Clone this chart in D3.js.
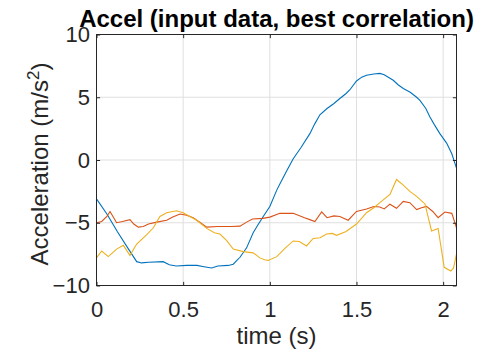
<!DOCTYPE html>
<html>
<head>
<meta charset="utf-8">
<script src="https://cdn.jsdelivr.net/npm/d3@7"></script>
<style>
  body { margin: 0; background: #fff; }
  text { font-family: "Liberation Sans", Arial, sans-serif; fill: #262626; }
</style>
</head>
<body>
<div id="chart"></div>
<script>
// Data (time in s, acceleration in m/s^2)
var blueT = [0, 0.06, 0.12, 0.18, 0.232, 0.26, 0.3, 0.385, 0.42, 0.46, 0.52, 0.58, 0.62, 0.664, 0.7, 0.76, 0.789, 0.81, 0.828, 0.866, 0.904, 0.93, 0.962, 1.0, 1.04, 1.06, 1.1, 1.135, 1.18, 1.231, 1.26, 1.289, 1.33, 1.37, 1.404, 1.44, 1.462, 1.5, 1.53, 1.558, 1.6, 1.635, 1.66, 1.712, 1.74, 1.77, 1.81, 1.847, 1.866, 1.9, 1.923, 1.95, 1.981, 2.02, 2.05, 2.077];
var blueV = [-3.1, -4.3, -5.7, -7.0, -8.1, -8.2, -8.15, -8.1, -8.35, -8.45, -8.4, -8.4, -8.5, -8.6, -8.45, -8.4, -8.3, -8.0, -7.75, -7.0, -5.8, -5.2, -4.5, -3.7, -2.4, -1.85, -0.8, 0.1, 1.0, 2.1, 2.9, 3.6, 4.1, 4.5, 4.9, 5.3, 5.6, 6.3, 6.6, 6.75, 6.85, 6.9, 6.8, 6.35, 6.0, 5.7, 5.4, 5.0, 4.75, 4.1, 3.45, 2.8, 2.1, 1.35, 0.5, -0.65];

var redT = [0, 0.03, 0.06, 0.078, 0.095, 0.116, 0.15, 0.193, 0.215, 0.241, 0.27, 0.3, 0.347, 0.405, 0.44, 0.482, 0.52, 0.558, 0.6, 0.636, 0.7, 0.78, 0.828, 0.866, 0.9, 0.96, 1.0, 1.058, 1.135, 1.2, 1.231, 1.26, 1.299, 1.33, 1.37, 1.404, 1.452, 1.5, 1.558, 1.6, 1.635, 1.66, 1.693, 1.731, 1.77, 1.808, 1.847, 1.875, 1.904, 1.94, 1.971, 2.01, 2.05, 2.077];
var redV = [-5.0, -4.9, -4.5, -4.1, -4.5, -5.0, -4.9, -4.75, -5.1, -5.35, -5.3, -5.1, -4.95, -4.8, -4.55, -4.3, -4.4, -4.6, -5.0, -5.35, -5.3, -5.3, -5.27, -4.95, -4.7, -4.65, -4.55, -4.25, -4.25, -4.6, -4.75, -4.9, -4.13, -4.6, -4.45, -4.5, -4.8, -4.1, -3.9, -3.7, -3.75, -3.9, -3.52, -3.85, -3.3, -3.4, -3.95, -3.8, -3.7, -4.1, -4.6, -4.15, -4.25, -5.4];

var yellowT = [0, 0.03, 0.068, 0.116, 0.155, 0.193, 0.232, 0.29, 0.328, 0.366, 0.405, 0.462, 0.5, 0.578, 0.636, 0.68, 0.712, 0.75, 0.789, 0.847, 0.904, 0.943, 0.97, 0.99, 1.04, 1.09, 1.135, 1.17, 1.212, 1.25, 1.29, 1.327, 1.36, 1.385, 1.44, 1.5, 1.558, 1.6, 1.635, 1.693, 1.731, 1.77, 1.808, 1.847, 1.895, 1.933, 1.971, 2.006, 2.044, 2.06, 2.083];
var yellowV = [-7.8, -7.25, -7.7, -7.1, -6.8, -7.6, -6.7, -5.95, -5.4, -4.5, -4.2, -4.05, -4.2, -4.8, -5.45, -5.8, -5.9, -6.4, -7.1, -7.3, -7.4, -7.8, -7.95, -8.0, -7.7, -7.0, -6.45, -6.5, -6.85, -6.25, -6.2, -5.9, -5.85, -6.0, -5.7, -5.1, -4.2, -3.8, -3.4, -2.75, -1.55, -2.0, -2.5, -2.9, -3.5, -5.65, -5.45, -8.55, -8.85, -8.6, -7.1];

var xTicks = [0, 0.5, 1, 1.5, 2];
var yTicks = [-10, -5, 0, 5, 10];

var series = [
  {t: blueT, v: blueV, color: "#0072BD"},
  {t: redT, v: redV, color: "#D95319"},
  {t: yellowT, v: yellowV, color: "#EDB120"}
];

var margin = {top: 34.5, right: 38.5, bottom: 66.5, left: 96.5},
    w = 495 - margin.left - margin.right,
    h = 352 - margin.top - margin.bottom;

var svg = d3.select("#chart")
  .append("svg")
  .attr("width", 495)
  .attr("height", 352)
  .append("g")
  .attr("transform", `translate(${margin.left},${margin.top})`);

var x = d3.scaleLinear().domain([0, 2.077]).range([0, w]);
var y = d3.scaleLinear().domain([-10, 10]).range([h, 0]);

// grid lines
svg.append("g")
  .selectAll("line")
  .data(xTicks)
  .enter().append("line")
  .attr("x1", d => x(d)).attr("x2", d => x(d))
  .attr("y1", 0).attr("y2", h)
  .attr("stroke", "#dfdfdf");
svg.append("g")
  .selectAll("line")
  .data(yTicks)
  .enter().append("line")
  .attr("x1", 0).attr("x2", w)
  .attr("y1", d => y(d)).attr("y2", d => y(d))
  .attr("stroke", "#dfdfdf");

// clip the lines to the axes box
svg.append("clipPath")
  .attr("id", "clip")
  .append("rect")
  .attr("width", w)
  .attr("height", h);

var line = d3.line()
  .x((d, i) => x(d[0]))
  .y(d => y(d[1]));

svg.append("g")
  .attr("clip-path", "url(#clip)")
  .selectAll("path")
  .data(series)
  .enter().append("path")
  .attr("fill", "none")
  .attr("stroke", d => d.color)
  .attr("stroke-width", 1.1)
  .attr("d", d => line(d.t.map((t, i) => [t, d.v[i]])));

// axes (ticks inside, box on all sides)
var tk = 3.6;
svg.append("g")
  .attr("transform", "translate(0," + h + ")")
  .call(d3.axisBottom(x).tickValues(xTicks).tickSize(-tk).tickPadding(tk + 12).tickFormat(d3.format("")))
  .call(g => g.select(".domain").remove());
svg.append("g")
  .call(d3.axisTop(x).tickValues(xTicks).tickSize(-tk).tickFormat(""))
  .call(g => g.select(".domain").remove());
svg.append("g")
  .call(d3.axisLeft(y).tickValues(yTicks).tickSize(-tk).tickPadding(tk + 3).tickFormat(d3.format("")))
  .call(g => g.select(".domain").remove());
svg.append("g")
  .attr("transform", "translate(" + w + ",0)")
  .call(d3.axisRight(y).tickValues(yTicks).tickSize(-tk).tickFormat(""))
  .call(g => g.select(".domain").remove());

svg.selectAll(".tick line").attr("stroke", "#262626");
svg.selectAll(".tick text")
  .style("font-size", "22px")
  .style("font-family", "'Liberation Sans', Arial, sans-serif")
  .attr("fill", "#262626");

svg.append("rect")
  .attr("width", w)
  .attr("height", h)
  .attr("fill", "none")
  .attr("stroke", "#262626")
  .attr("stroke-width", 1);

// title
svg.append("text")
  .attr("x", w / 2)
  .attr("y", 27 - margin.top)
  .style("text-anchor", "middle")
  .style("font-size", "24px")
  .style("font-weight", "bold")
  .style("fill", "#000")
  .text("Accel (input data, best correlation)");

// x label
svg.append("text")
  .attr("x", w / 2)
  .attr("y", 344 - margin.top)
  .style("text-anchor", "middle")
  .style("font-size", "24px")
  .text("time (s)");

// y label
var yl = svg.append("text")
  .attr("transform", "translate(" + (48 - margin.left) + "," + (164 - margin.top) + ") rotate(-90)")
  .style("text-anchor", "middle")
  .style("font-size", "24px");
yl.append("tspan").text("Acceleration (m/s");
yl.append("tspan").attr("dy", -9).style("font-size", "17px").text("2");
yl.append("tspan").attr("dy", 9).text(")");
</script>
</body>
</html>
